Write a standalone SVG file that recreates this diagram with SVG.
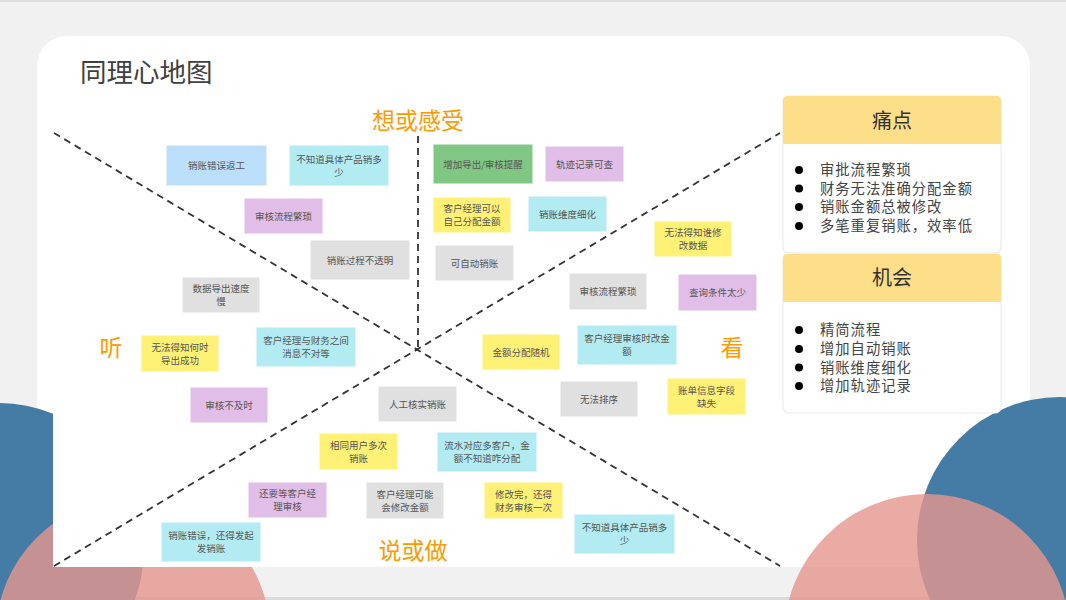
<svg xmlns="http://www.w3.org/2000/svg" width="1066" height="600" viewBox="0 0 1066 600">
<style>
.bg{fill:#f1f1f1}
.n rect{stroke:#ffffff;stroke-opacity:0.7;stroke-width:1.5}
.n text{font-family:"Noto Sans CJK SC","Microsoft YaHei",sans-serif;font-size:9.5px;fill:#555;text-anchor:middle}
.blue rect{fill:#bbdefb}.cyan rect{fill:#b2ebf2}.purple rect{fill:#e1bee7}.green rect{fill:#81c784}.yellow rect{fill:#fff176}.gray rect{fill:#e0e0e0}
.lbl{font-family:"Noto Sans CJK SC",sans-serif;font-size:23px;fill:#ff9900;text-anchor:middle}
.dash{stroke:#333;stroke-width:1.8;stroke-dasharray:7 5;fill:none}
.ph{fill:#fedf89}
.pb{fill:#fff;stroke:#ebebeb;stroke-width:1.2}
.pt{font-family:"Noto Sans CJK SC",serif;font-size:20px;fill:#333;text-anchor:middle}
.li{font-family:"Noto Sans CJK SC",serif;font-size:14.3px;fill:#444;letter-spacing:1px}
</style>
<rect class="bg" x="0" y="0" width="1066" height="600"/>
<rect x="0" y="0" width="1066" height="2" fill="#dedede"/>
<rect x="0" y="597" width="1066" height="3" fill="#dadada"/>
<rect x="37" y="36" width="993" height="531" rx="30" ry="30" fill="#ffffff"/>
<g id="decor">
<circle cx="-2" cy="549" r="146" fill="#457ca6"/>
<circle cx="133" cy="635" r="137" fill="#e6968f" fill-opacity="0.8"/>
<circle cx="1060" cy="540" r="143" fill="#457ca6"/>
<circle cx="927" cy="637" r="143" fill="#e6968f" fill-opacity="0.8"/>
</g>
<rect x="53" y="96" width="727" height="471" fill="#ffffff"/>
<text x="80" y="82" font-family="Noto Sans CJK SC,sans-serif" font-size="26.5" fill="#404040">同理心地图</text>
<g id="connectors">
<line class="dash" x1="54" y1="133" x2="780" y2="566"/>
<line class="dash" x1="54" y1="566" x2="780" y2="133"/>
<line class="dash" x1="418" y1="136" x2="418" y2="349"/>
</g>
<g id="labels">
<text class="lbl" x="418" y="129">想或感受</text>
<text class="lbl" x="111" y="356">听</text>
<text class="lbl" x="732" y="356">看</text>
<text class="lbl" x="413" y="559">说或做</text>
</g>
<g id="n1" class="n blue"><rect x="166" y="145" width="101" height="41"/><text x="216.5" y="169">销账错误返工</text></g>
<g id="n2" class="n cyan"><rect x="289" y="145" width="100" height="41"/><text x="339" y="162.5">不知道具体产品销多</text><text x="339" y="175.5">少</text></g>
<g id="n3" class="n purple"><rect x="244" y="198" width="79" height="36"/><text x="283.5" y="219.5">审核流程繁琐</text></g>
<g id="n4" class="n gray"><rect x="310" y="240" width="100" height="40"/><text x="360" y="263.5">销账过程不透明</text></g>
<g id="n5" class="n gray"><rect x="182" y="277" width="78" height="36"/><text x="221" y="292">数据导出速度</text><text x="221" y="305">慢</text></g>
<g id="n6" class="n yellow"><rect x="141" y="335" width="78" height="37"/><text x="180" y="350.5">无法得知何时</text><text x="180" y="363.5">导出成功</text></g>
<g id="n7" class="n cyan"><rect x="256" y="327" width="100" height="40"/><text x="306" y="344">客户经理与财务之间</text><text x="306" y="357">消息不对等</text></g>
<g id="n8" class="n purple"><rect x="190" y="387" width="78" height="36"/><text x="229" y="408.5">审核不及时</text></g>
<g id="n9" class="n green"><rect x="433" y="144" width="100" height="40"/><text x="483" y="167.5">增加导出/审核提醒</text></g>
<g id="n10" class="n purple"><rect x="545" y="146" width="79" height="36"/><text x="584.5" y="167.5">轨迹记录可查</text></g>
<g id="n11" class="n yellow"><rect x="433" y="197" width="78" height="36"/><text x="472" y="212">客户经理可以</text><text x="472" y="225">自己分配金额</text></g>
<g id="n12" class="n cyan"><rect x="528" y="196" width="79" height="36"/><text x="567.5" y="217.5">销账维度细化</text></g>
<g id="n13" class="n gray"><rect x="435" y="245" width="79" height="36"/><text x="474.5" y="266.5">可自动销账</text></g>
<g id="n14" class="n yellow"><rect x="654" y="221" width="78" height="36"/><text x="693" y="236">无法得知谁修</text><text x="693" y="249">改数据</text></g>
<g id="n15" class="n gray"><rect x="569" y="273" width="78" height="37"/><text x="608" y="295">审核流程繁琐</text></g>
<g id="n16" class="n purple"><rect x="678" y="274" width="79" height="37"/><text x="717.5" y="296">查询条件太少</text></g>
<g id="n17" class="n yellow"><rect x="482" y="334" width="78" height="36"/><text x="521" y="355.5">金额分配随机</text></g>
<g id="n18" class="n cyan"><rect x="577" y="325" width="100" height="40"/><text x="627" y="342">客户经理审核时改金</text><text x="627" y="355">额</text></g>
<g id="n19" class="n gray"><rect x="560" y="381" width="78" height="36"/><text x="599" y="402.5">无法排序</text></g>
<g id="n20" class="n yellow"><rect x="667" y="378" width="79" height="37"/><text x="706.5" y="393.5">账单信息字段</text><text x="706.5" y="406.5">缺失</text></g>
<g id="n21" class="n gray"><rect x="378" y="386" width="79" height="36"/><text x="417.5" y="407.5">人工核实销账</text></g>
<g id="n22" class="n yellow"><rect x="319" y="433" width="79" height="37"/><text x="358.5" y="448.5">相同用户多次</text><text x="358.5" y="461.5">销账</text></g>
<g id="n23" class="n cyan"><rect x="437" y="432" width="100" height="40"/><text x="487" y="449">流水对应多客户，金</text><text x="487" y="462">额不知道咋分配</text></g>
<g id="n24" class="n purple"><rect x="248" y="482" width="79" height="36"/><text x="287.5" y="497">还要等客户经</text><text x="287.5" y="510">理审核</text></g>
<g id="n25" class="n gray"><rect x="366" y="482" width="78" height="37"/><text x="405" y="497.5">客户经理可能</text><text x="405" y="510.5">会修改金额</text></g>
<g id="n26" class="n yellow"><rect x="484" y="482" width="79" height="37"/><text x="523.5" y="497.5">修改完，还得</text><text x="523.5" y="510.5">财务审核一次</text></g>
<g id="n27" class="n cyan"><rect x="161" y="522" width="100" height="40"/><text x="211" y="539">销账错误，还得发起</text><text x="211" y="552">发销账</text></g>
<g id="n28" class="n cyan"><rect x="574" y="514" width="101" height="40"/><text x="624.5" y="531">不知道具体产品销多</text><text x="624.5" y="544">少</text></g>
<g id="pain">
<rect class="pb" x="783" y="96" width="218" height="157" rx="6"/>
<rect class="ph" x="783" y="96" width="218" height="48" rx="4"/>
<rect class="ph" x="783" y="138" width="218" height="6"/>
<text class="pt" x="892" y="128">痛点</text>
<circle cx="799" cy="170" r="4" fill="#000"/><text class="li" x="820" y="175">审批流程繁琐</text>
<circle cx="799" cy="188.5" r="4" fill="#000"/><text class="li" x="820" y="193.5">财务无法准确分配金额</text>
<circle cx="799" cy="207" r="4" fill="#000"/><text class="li" x="820" y="212">销账金额总被修改</text>
<circle cx="799" cy="226" r="4" fill="#000"/><text class="li" x="820" y="231">多笔重复销账，效率低</text>
</g>
<g id="chance">
<rect class="pb" x="783" y="254" width="218" height="159" rx="6"/>
<rect class="ph" x="783" y="254" width="218" height="48" rx="4"/>
<rect class="ph" x="783" y="296" width="218" height="6"/>
<text class="pt" x="892" y="285">机会</text>
<circle cx="799" cy="330" r="4" fill="#000"/><text class="li" x="820" y="335">精简流程</text>
<circle cx="799" cy="349" r="4" fill="#000"/><text class="li" x="820" y="354">增加自动销账</text>
<circle cx="799" cy="367.5" r="4" fill="#000"/><text class="li" x="820" y="372.5">销账维度细化</text>
<circle cx="799" cy="386" r="4" fill="#000"/><text class="li" x="820" y="391">增加轨迹记录</text>
</g>
</svg>
